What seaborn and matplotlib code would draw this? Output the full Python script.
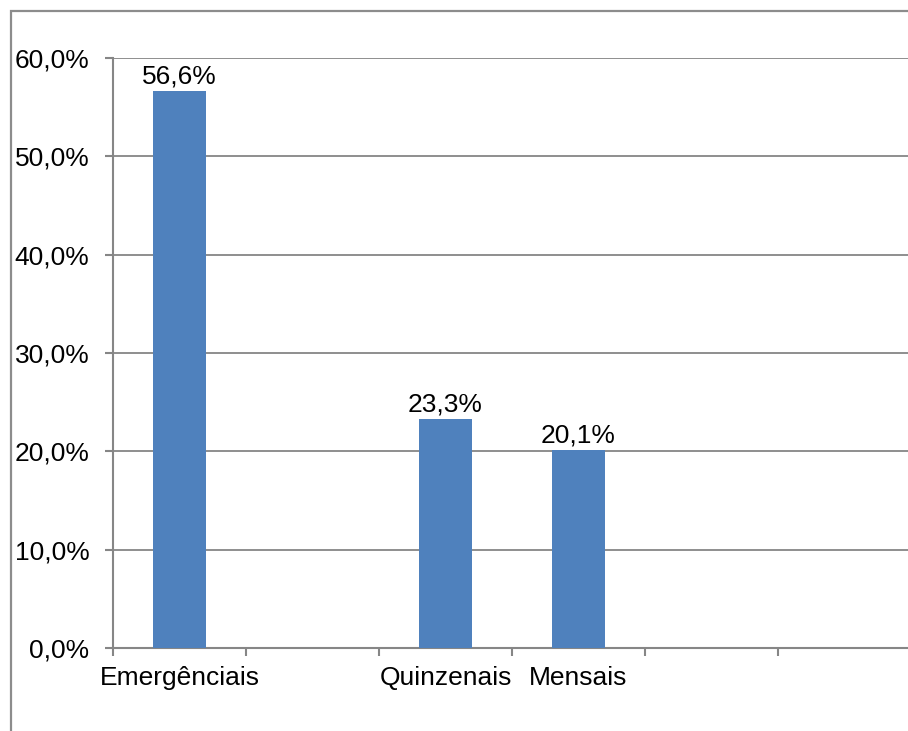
import matplotlib
matplotlib.use('Agg')
import matplotlib.pyplot as plt
import matplotlib.patches as mpatches
from matplotlib.ticker import FixedLocator, FuncFormatter
import seaborn as sns
import pandas as pd

# Data (empty slots in the original category axis kept as blank names)
categories = ['Emergênciais', ' ', 'Quinzenais', 'Mensais', '  ', '   ']
bar_names = ['Emergênciais', 'Quinzenais', 'Mensais']
bar_values = [56.6, 23.3, 20.1]
y_ticks = [0, 10, 20, 30, 40, 50, 60]

grey = '#868686'
blue = '#4F81BD'

sns.set_theme(style='white')
plt.rcParams['font.family'] = ['Liberation Sans', 'DejaVu Sans']

df = pd.DataFrame({'categoria': bar_names, 'valor': bar_values})

fig = plt.figure(figsize=(9.08, 7.31), dpi=100)
ax = fig.add_axes([113 / 908, 1 - 648 / 731, 798 / 908, 590 / 731])

sns.barplot(data=df, x='categoria', y='valor', order=categories,
            color=blue, saturation=1, width=0.4, linewidth=0, ax=ax, zorder=3)

# Title and axes
ax.set_xlim(-0.5, len(categories) - 0.5)
ax.set_ylim(0, 60)
ax.set_xlabel('')
ax.set_ylabel('')
ax.yaxis.set_major_locator(FixedLocator(y_ticks))
ax.yaxis.set_major_formatter(FuncFormatter(lambda v, p: f'{v:.1f}%'.replace('.', ',')))
ax.grid(axis='y', color=grey, linewidth=1.3, zorder=0)
ax.set_axisbelow(True)

for side in ['top', 'right']:
    ax.spines[side].set_visible(False)
for side in ['left', 'bottom']:
    ax.spines[side].set_color(grey)
    ax.spines[side].set_linewidth(1.5)

ax.set_xticks(range(len(categories)))
ax.set_xticklabels([c.strip() for c in categories])
ax.set_xticks([i - 0.5 for i in range(len(categories) + 1)], minor=True)
ax.tick_params(axis='x', which='major', length=0, pad=13, labelsize=19, colors='black')
ax.tick_params(axis='x', which='minor', direction='out', length=6, width=1.5,
               color=grey, bottom=True)
ax.tick_params(axis='y', direction='out', length=6, width=1.5, color=grey,
               pad=11, labelsize=19, labelcolor='black', left=True)

# Value labels
ax.bar_label(ax.containers[0], labels=[f'{v:.1f}%'.replace('.', ',') for v in bar_values],
             padding=2, fontsize=19, color='black')

# Outer chart frame
frame = mpatches.Rectangle((11 / 908, -0.1), 1.2, 1 - 11 / 731 + 0.1, transform=fig.transFigure,
                           fill=False, edgecolor='#8c8c8c', linewidth=1.6)
fig.patches.append(frame)

plt.savefig('out.png', dpi=100)
